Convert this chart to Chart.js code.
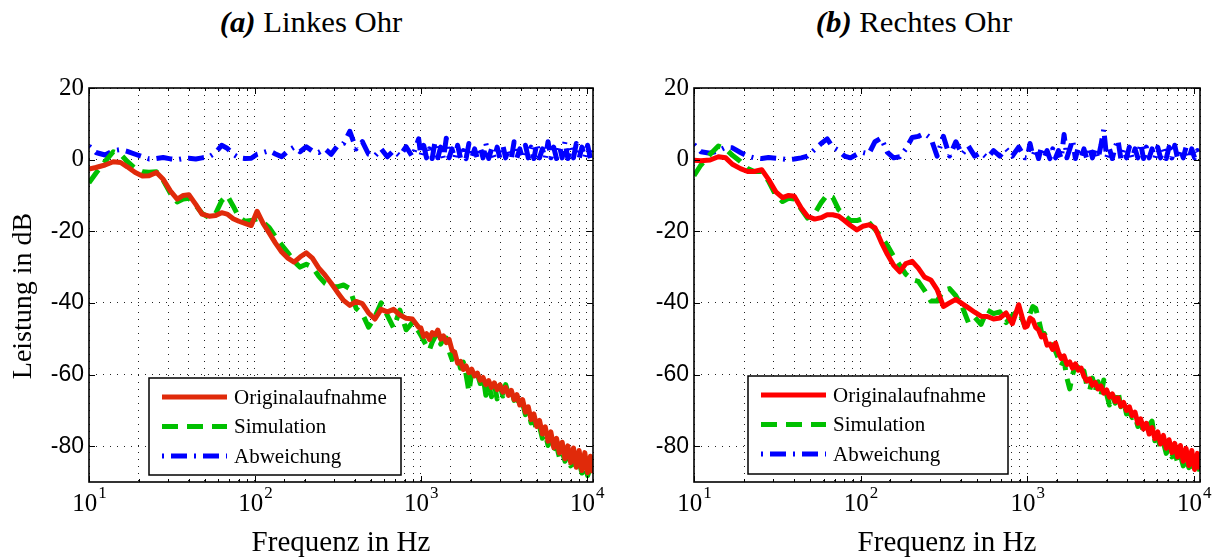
<!DOCTYPE html>
<html lang="de">
<head>
<meta charset="utf-8">
<script src="https://cdn.jsdelivr.net/npm/chart.js@4.4.1/dist/chart.umd.min.js"></script>
<style>
  html, body { margin: 0; padding: 0; background: #fff; }
  body { width: 1213px; height: 559px; position: relative; overflow: hidden; font-family: "Liberation Serif", serif; }
  .titel { position: absolute; top: 8px; font-size: 29px; line-height: 1; white-space: nowrap; color: #000;
           transform: translateX(-50%) scaleX(1.06); }
  canvas { position: absolute; top: 0; }
  #links { left: 0; }
  #rechts { left: 606px; }
</style>
</head>
<body>
<div class="titel" style="left:311px"><b><i>(a)</i></b> Linkes Ohr</div>
<div class="titel" style="left:914px"><b><i>(b)</i></b> Rechtes Ohr</div>
<canvas id="links" width="606" height="559"></canvas>
<canvas id="rechts" width="607" height="559"></canvas>
<script>
// Frequenzstützstellen (Hz), oberhalb 1 kHz dichter wegen der verrauschten Kurven
const frequenzen = [10, 11, 12.5, 14, 15.5, 17, 19, 21, 23, 25.5,
  28, 31, 34, 37, 40, 44, 48, 53, 58, 63,
  68, 74, 80, 87, 95, 103, 112, 122, 133, 145,
  158, 172, 187, 204, 222, 242, 264, 288, 314, 342,
  373, 407, 444, 484, 528, 576, 628, 685, 747, 815,
  889, 970,
  1000, 1040, 1082, 1125, 1170, 1217, 1265, 1316, 1369, 1423,
  1480, 1540, 1601, 1665, 1732, 1801, 1873, 1948, 2026, 2107,
  2191, 2279, 2370, 2465, 2563, 2666, 2772, 2883, 2999, 3119,
  3243, 3373, 3508, 3648, 3794, 3946, 4104, 4268, 4439, 4616,
  4801, 4993, 5193, 5400, 5617, 5841, 6075, 6318, 6571, 6833,
  7107, 7391, 7687, 7994, 8314, 8646, 8992, 9352, 9726, 10115,
  10520, 10900];

const serienNamen = ['Originalaufnahme', 'Simulation', 'Abweichung'];
const xTickExponenten = [1, 2, 3, 4];
const yTicks = [20, 0, -20, -40, -60, -80];

// (a) Linkes Ohr
const linksOriginal = [-2.6, -2.2, -1.5, -0.6, -0.8, -2.0, -3.6, -4.6, -4.5, -3.6,
  -5.5, -8.8, -11.0, -10.0, -9.8, -12.5, -15.2, -15.8, -15.6, -14.8,
  -15.2, -16.5, -17.2, -17.8, -18.4, -14.4, -17.8, -20.5, -23.3, -25.8,
  -27.5, -28.6, -27.2, -26.0, -27.5, -30.2, -32.2, -34.5, -37.0, -39.3,
  -40.7, -39.6, -40.2, -42.8, -44.5, -41.8, -42.5, -41.8, -43.4, -44.3,
  -44.5, -46.8,
  -47.0, -49.4, -48.6, -50.2, -48.3, -48.9, -47.6, -50.1, -49.2, -51.1,
  -50.2, -53.2, -53.8, -56.8, -56.3, -58.6, -57.6, -59.5, -58.5, -60.4,
  -59.6, -61.6, -60.8, -62.8, -61.7, -63.6, -62.3, -64.2, -62.9, -64.9,
  -63.6, -65.8, -64.4, -67.0, -65.6, -68.5, -67.0, -70.5, -69.0, -72.6,
  -71.0, -74.5, -72.8, -76.6, -74.6, -78.6, -76.0, -80.4, -77.8, -81.9,
  -78.9, -83.5, -79.9, -84.6, -80.5, -85.9, -81.2, -86.8, -81.8, -87.4,
  -82.8, -87.5];
const linksSimulation = [-6.5, -3.8, -0.5, 2.2, 1.5, -0.5, -2.5, -3.4, -3.5, -3.4,
  -5.8, -9.5, -11.8, -11.0, -10.8, -12.8, -15.0, -16.2, -15.0, -11.5,
  -10.0, -13.0, -16.0, -17.2, -17.0, -16.5, -17.5, -19.0, -21.5, -23.8,
  -26.0, -28.4, -30.0, -29.2, -30.0, -32.5, -34.5, -35.5, -35.5, -35.0,
  -36.0, -41.5, -43.0, -46.8, -44.0, -40.0, -43.5, -47.0, -42.0, -47.5,
  -45.5, -48.0,
  -49.0, -50.5, -52.0, -53.2, -51.0, -49.5, -48.8, -51.5, -50.0, -49.8,
  -53.5, -55.8, -53.8, -55.0, -58.2, -56.5, -60.0, -64.8, -59.5, -61.2,
  -59.8, -62.5, -60.5, -65.8, -62.5, -66.2, -62.8, -66.8, -63.0, -66.0,
  -62.8, -65.5, -64.0, -67.2, -66.2, -68.8, -68.0, -71.2, -70.0, -73.5,
  -72.5, -75.8, -74.5, -77.8, -76.5, -79.8, -78.2, -81.5, -80.0, -83.0,
  -81.5, -84.2, -82.5, -85.5, -83.5, -86.5, -84.5, -87.5, -85.5, -88.2,
  -86.0, -88.0];
const linksAbweichung = [3.8, 2.0, 1.3, 2.5, 2.8, 2.3, 1.5, 0.8, 0.2, 0.3,
  0.6, 0.2, 0.0, 0.3, 0.4, 0.2, 0.5, 0.8, 2.0, 4.0,
  3.2, 1.5, 0.5, 0.3, 0.4, 1.5, 2.0, 2.5, 1.6, 0.8,
  2.4, 3.5, 2.2, 3.6, 2.4, 2.0, 3.0, 1.5, 3.8, 4.5,
  7.9, 3.0, 5.0, 1.5, 1.0, 3.0, 0.8, 2.5, 1.0, 3.6,
  0.8, 5.8,
  1.0, 4.0, 0.5, 3.0, 0.3, 5.0, 0.5, 3.5, 0.3, 6.0,
  0.5, 3.0, 0.3, 4.0, 0.5, 2.5, 0.3, 4.5, 0.5, 3.0,
  0.3, 3.5, 0.5, 4.5, 0.3, 3.0, 0.5, 3.5, 0.3, 4.0,
  0.5, 3.0, 0.3, 5.0, 0.5, 3.0, 0.3, 4.0, 0.5, 3.5,
  0.3, 4.5, 0.5, 3.0, 0.3, 5.0, 0.5, 3.5, 0.3, 4.0,
  0.5, 5.0, 0.3, 3.5, 0.5, 4.5, 0.3, 3.5, 0.5, 4.0,
  0.3, 3.0];

// (b) Rechtes Ohr
const rechtsOriginal = [-0.2, -0.3, -0.1, 0.8, 0.5, -1.3, -2.5, -3.3, -3.3, -2.8,
  -5.5, -9.0, -10.6, -10.0, -10.2, -13.5, -15.8, -16.6, -16.2, -15.4,
  -15.4, -15.8, -17.0, -18.4, -19.6, -18.6, -18.2, -19.0, -23.0, -26.5,
  -29.5, -31.3, -29.0, -28.4, -30.3, -32.8, -33.6, -36.3, -41.0, -40.0,
  -39.0, -40.2, -41.4, -42.6, -43.7, -43.8, -44.5, -44.2, -42.8, -45.8,
  -40.5, -46.8,
  -46.5, -44.2, -44.8, -46.8, -47.5, -49.5, -49.0, -51.8, -51.5, -53.0,
  -51.2, -53.8, -55.5, -54.8, -57.2, -56.5, -58.2, -57.0, -58.8, -58.2,
  -60.5, -61.8, -61.2, -63.0, -62.2, -64.0, -63.2, -65.2, -64.3, -66.3,
  -65.4, -67.5, -66.5, -68.8, -67.8, -70.0, -69.0, -71.5, -70.5, -73.6,
  -72.4, -75.2, -73.6, -76.6, -74.8, -77.9, -76.0, -79.4, -77.0, -80.6,
  -78.2, -81.8, -79.2, -83.0, -79.8, -84.2, -80.6, -85.4, -81.2, -86.5,
  -82.0, -86.5];
const rechtsSimulation = [-4.5, -1.5, 1.5, 3.8, 3.0, 1.2, -0.5, -2.5, -3.3, -3.3,
  -6.0, -10.0, -11.7, -10.8, -11.0, -13.8, -16.3, -15.0, -12.0, -9.8,
  -10.5, -14.0, -15.5, -17.0, -17.0, -16.5, -17.5, -19.5, -21.5, -24.0,
  -27.0, -29.5, -32.0, -33.5, -34.0, -36.5, -39.5, -39.5, -36.5, -36.0,
  -38.0, -41.0, -45.5, -44.0, -46.0, -42.0, -43.0, -42.5, -45.5, -43.5,
  -42.0, -46.5,
  -46.0, -43.0, -41.0, -41.5, -44.5, -48.0, -48.5, -50.0, -51.0, -52.5,
  -53.5, -55.5, -57.5, -56.0, -61.0, -64.0, -60.0, -57.5, -58.0, -60.5,
  -59.0, -63.0, -64.5, -61.0, -64.5, -62.0, -66.0, -61.5, -65.5, -68.5,
  -66.0, -68.0, -64.5, -69.0, -67.5, -71.0, -70.5, -72.0, -71.5, -74.5,
  -73.5, -76.0, -75.0, -74.0, -73.0, -78.5, -77.5, -80.5, -79.0, -82.0,
  -80.5, -83.0, -81.5, -84.5, -82.5, -85.5, -83.5, -86.0, -84.5, -87.0,
  -85.0, -87.0];
const rechtsAbweichung = [4.2, 2.2, 1.8, 2.5, 3.5, 3.3, 2.0, 1.0, 0.5, 0.3,
  0.6, 0.4, 0.2, 0.0, 0.2, 0.5, 1.0, 2.8, 4.5, 5.8,
  3.5, 2.5, 1.0, 0.5, 1.5, 2.0, 1.6, 5.0, 6.0, 2.0,
  0.5, 0.8, 3.0, 6.2, 6.5, 7.3, 6.0, 1.0, 6.5, 1.0,
  5.0, 1.5, 3.8, 1.0, 2.0, 0.5, 2.5, 1.0, 3.0, 1.0,
  3.5, 0.5,
  0.5, 4.5, 1.0, 3.0, 0.3, 3.5, 0.5, 2.5, 0.3, 3.0,
  0.5, 2.5, 0.3, 7.0, 0.5, 3.0, 5.5, 0.3, 3.5, 0.5,
  3.0, 0.3, 3.5, 0.5, 3.0, 0.3, 4.0, 8.5, 0.5, 3.0,
  0.3, 3.5, 5.5, 0.3, 3.0, 0.5, 3.5, 0.3, 3.0, 0.5,
  4.5, 0.3, 3.5, 0.5, 3.0, 0.3, 3.5, 0.5, 3.0, 0.3,
  3.5, 0.5, 4.0, 0.3, 3.0, 0.5, 3.5, 0.3, 3.0, 0.5,
  2.5, 1.0];

const SERIF = '"Liberation Serif", "DejaVu Serif", serif';
const SANS = '"Liberation Sans", Arial, sans-serif';

// Rahmen, innenliegende Teilstriche, Achsenbeschriftungen und Legende im Plotbereich
const rahmenPlugin = {
  id: 'rahmen',
  afterDraw(chart, args, opts) {
    const { ctx, chartArea: a, scales: { x, y } } = chart;
    const linie = (x1, y1, x2, y2) => { ctx.beginPath(); ctx.moveTo(x1, y1); ctx.lineTo(x2, y2); ctx.stroke(); };
    ctx.save();
    ctx.strokeStyle = '#000';
    ctx.lineWidth = 1;
    x.ticks.forEach(t => {
      const px = Math.round(x.getPixelForValue(t.value)) + 0.5;
      const len = Number.isInteger(Math.log10(t.value)) ? 6 : 3;
      linie(px, a.bottom, px, a.bottom - len);
      linie(px, a.top, px, a.top + len);
    });
    y.ticks.forEach(t => {
      const py = Math.round(y.getPixelForValue(t.value)) + 0.5;
      linie(a.left, py, a.left + 6, py);
      linie(a.right, py, a.right - 6, py);
    });
    ctx.lineWidth = 1.6;
    ctx.strokeRect(a.left, a.top, a.right - a.left, a.bottom - a.top);

    // x-Achse: 10 mit hochgestelltem Exponenten
    ctx.fillStyle = '#000';
    ctx.textBaseline = 'alphabetic';
    xTickExponenten.forEach(e => {
      const px = x.getPixelForValue(Math.pow(10, e));
      ctx.font = '25px ' + SERIF;
      const wBasis = ctx.measureText('10').width;
      ctx.font = '17px ' + SERIF;
      const wExp = ctx.measureText(String(e)).width;
      const start = px - (wBasis + wExp) / 2;
      ctx.font = '25px ' + SERIF;
      ctx.fillText('10', start, 511);
      ctx.font = '17px ' + SERIF;
      ctx.fillText(String(e), start + wBasis + 1, 498);
    });

    // y-Achsentitel
    if (opts.yTitel) {
      ctx.save();
      ctx.translate(24, 296);
      ctx.rotate(-Math.PI / 2);
      ctx.font = '28px ' + SERIF;
      ctx.textAlign = 'center';
      ctx.textBaseline = 'middle';
      ctx.fillText(opts.yTitel, 0, 0);
      ctx.restore();
    }

    // Legende
    const L = opts.legende;
    const lx = a.left + L.dx;
    ctx.fillStyle = '#fff';
    ctx.fillRect(lx, L.top, L.w, L.h);
    ctx.lineWidth = 1.5;
    ctx.strokeStyle = '#000';
    ctx.strokeRect(lx, L.top, L.w, L.h);
    chart.data.datasets.forEach((ds, i) => {
      const cy = L.top + 19 + i * 29.5;
      ctx.strokeStyle = ds.borderColor;
      ctx.lineWidth = ds.borderWidth;
      ctx.setLineDash(ds.borderDash || []);
      linie(lx + 13, cy, lx + 78, cy);
      ctx.setLineDash([]);
      ctx.fillStyle = '#000';
      ctx.font = '21px ' + SERIF;
      ctx.textBaseline = 'middle';
      ctx.fillText(ds.label, lx + 85, cy + 1);
    });
    ctx.restore();
  }
};

function punkte(werte) {
  return frequenzen.map((f, i) => ({ x: f, y: werte[i] }));
}

function zeichneDiagramm(id, original, simulation, abweichung, cfg) {
  const canvas = document.getElementById(id);
  return new Chart(canvas.getContext('2d'), {
    type: 'line',
    data: {
      datasets: [{
        label: serienNamen[0],
        data: punkte(original),
        borderColor: cfg.rot,
        borderWidth: 5
      }, {
        label: serienNamen[1],
        data: punkte(simulation),
        borderColor: '#00c000',
        borderWidth: 5,
        borderDash: [16, 9]
      }, {
        label: serienNamen[2],
        data: punkte(abweichung),
        borderColor: '#0000ff',
        borderWidth: 5,
        borderDash: [2, 7, 16, 7]
      }]
    },
    plugins: [rahmenPlugin],
    options: {
      responsive: false,
      animation: false,
      devicePixelRatio: 1,
      layout: { padding: { top: 88, right: cfg.rechterRand, left: 0, bottom: 0 } },
      elements: {
        point: { radius: 0 },
        line: { tension: 0, borderJoinStyle: 'round', borderCapStyle: 'butt' }
      },
      plugins: {
        legend: { display: false },
        tooltip: { enabled: false },
        rahmen: { legende: cfg.legende, yTitel: cfg.yTitel }
      },
      scales: {
        x: {
          type: 'logarithmic',
          min: 10,
          max: 10900,
          ticks: { display: false },
          grid: { color: '#222', lineWidth: 1, drawTicks: false },
          border: { display: false, dash: [1, 6] },
          title: {
            display: true,
            text: 'Frequenz in Hz',
            color: '#000',
            font: { family: SERIF, size: 29, lineHeight: 1 },
            padding: { top: 0, bottom: 1 }
          },
          afterFit: s => { s.height = 77; }
        },
        y: {
          min: -90,
          max: 20,
          afterBuildTicks: s => { s.ticks = yTicks.map(v => ({ value: v })); },
          ticks: {
            color: '#000',
            padding: 5,
            font: c => (c.tick && c.tick.value < 0)
              ? { family: SANS, size: 23 }
              : { family: SERIF, size: 25 }
          },
          grid: { color: '#222', lineWidth: 1, drawTicks: false },
          border: { display: false, dash: [1, 6] },
          afterFit: s => { s.width = cfg.linkerRand; }
        }
      }
    }
  });
}

zeichneDiagramm('links', linksOriginal, linksSimulation, linksAbweichung, {
  rot: 'rgb(224,42,10)', linkerRand: 89, rechterRand: 13, yTitel: 'Leistung in dB',
  legende: { dx: 60, top: 378, w: 252, h: 97 }
});
zeichneDiagramm('rechts', rechtsOriginal, rechtsSimulation, rechtsAbweichung, {
  rot: '#ff0000', linkerRand: 88, rechterRand: 13, yTitel: '',
  legende: { dx: 54, top: 376, w: 260, h: 98 }
});
</script>
</body>
</html>
